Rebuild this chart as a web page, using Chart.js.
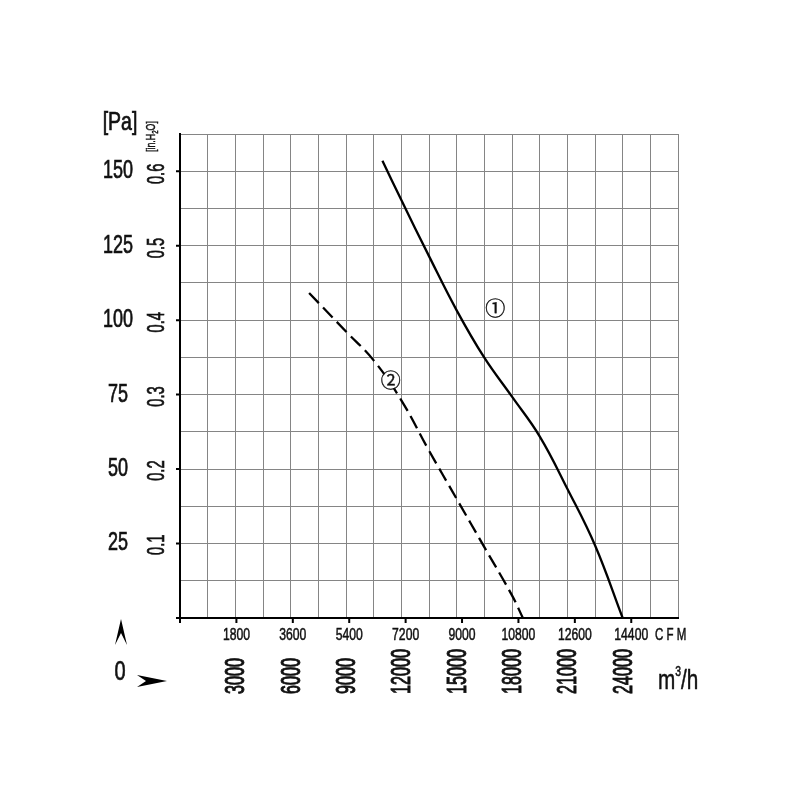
<!DOCTYPE html>
<html>
<head>
<meta charset="utf-8">
<script src="https://cdn.jsdelivr.net/npm/chart.js@4"></script>
<style>
  body { margin: 0; background: #fff; }
  canvas { display: block; }
</style>
</head>
<body>
<canvas id="fanChart" width="800" height="800"></canvas>
<script>
/* ───────────── DATA ───────────── */
// curve 1 (solid) : airflow m³/h vs static pressure Pa
const flow1 = [10975, 12000, 13500, 15000, 16500, 18000, 19500, 21000, 22500, 24000];
const pres1 = [153.5, 140.3, 121.5, 103.3, 87.4, 74.3, 61.0, 43.4, 24.4, 0];
// curve 2 (dashed)
const flow2 = [7000, 9000, 10500, 12000, 13500, 15000, 16500, 18000, 18590];
const pres2 = [109.1, 96.2, 86.5, 73.1, 56.2, 40.0, 23.8, 7.6, 0];

// axis tick labels
const paTicks  = [25, 50, 75, 100, 125, 150];
const inTicks  = ["0.1", "0.2", "0.3", "0.4", "0.5", "0.6"];
const cfmTicks = [1800, 3600, 5400, 7200, 9000, 10800, 12600, 14400];
const m3hTicks = [3000, 6000, 9000, 12000, 15000, 18000, 21000, 24000];

// curve markers ① ② : [label, m³/h, Pa]
const curveTags = [["①", 17090, 103.8], ["②", 11420, 79.8]];

const CFM_TO_M3H = 1.699;
const FONT = '"Liberation Sans", Arial, sans-serif';
const INK = "#111";

/* ───────────── HELPERS ───────────── */
const txt = (ctx, s, x, y, o = {}) => {
  ctx.save();
  ctx.translate(x, y);
  if (o.rot) ctx.rotate(o.rot);
  ctx.scale(o.sx || 1, 1);
  ctx.font = `${o.weight || "normal"} ${o.size || 16}px ${o.family || FONT}`;
  ctx.textAlign = o.align || "center";
  ctx.textBaseline = o.base || "middle";
  ctx.fillStyle = INK;
  ctx.fillText(s, 0, 0);
  if (o.bold !== false) {            // slightly heavier strokes, like the print
    ctx.strokeStyle = INK;
    ctx.lineWidth = o.stroke || 0.7;
    ctx.strokeText(s, 0, 0);
  }
  ctx.restore();
};

// pieces: [text, size, dy] drawn one after another (for sub/superscripts)
const runs = (ctx, pieces, x, y, sx, rot = 0) => {
  ctx.save();
  ctx.translate(x, y);
  if (rot) ctx.rotate(rot);
  ctx.scale(sx, 1);
  ctx.fillStyle = INK;
  ctx.strokeStyle = INK;
  ctx.lineWidth = 0.5;
  ctx.textBaseline = "alphabetic";
  ctx.textAlign = "left";
  let cx = 0;
  pieces.forEach(([s, sz, dy]) => {
    ctx.font = `${sz}px ${FONT}`;
    ctx.fillText(s, cx, dy);
    ctx.strokeText(s, cx, dy);
    cx += ctx.measureText(s).width;
  });
  ctx.restore();
};

const toPoints = (xs, ys) => xs.map((x, i) => ({ x, y: ys[i] }));

/* ───────────── LABEL PLUGIN ───────────── */
const fanLabels = {
  id: "fanLabels",
  afterDraw(chart) {
    const { ctx, chartArea: a, scales: { x, y } } = chart;

    // tick marks
    ctx.save();
    ctx.strokeStyle = "#000";
    ctx.lineWidth = 2;
    ctx.beginPath();
    [0, ...paTicks].forEach(v => {
      const py = y.getPixelForValue(v);
      ctx.moveTo(a.left - 4, py); ctx.lineTo(a.left, py);
    });
    [0, ...cfmTicks].forEach(v => {
      const px = x.getPixelForValue(v * CFM_TO_M3H);
      ctx.moveTo(px, a.bottom); ctx.lineTo(px, a.bottom + 5);
    });
    ctx.stroke();
    ctx.restore();

    // left: Pa and in.H2O
    txt(ctx, "[Pa]", 120, 130, { size: 25, sx: 0.78, base: "alphabetic" });
    paTicks.forEach(v => txt(ctx, String(v), 118, y.getPixelForValue(v), { size: 25, sx: 0.72 }));
    inTicks.forEach(v => txt(ctx, v, 158, y.getPixelForValue(parseFloat(v) * 249.089) + 1,
      { size: 23, sx: 0.64, rot: -Math.PI / 2 }));
    runs(ctx, [["[in.H", 13, 0], ["2", 9, 3], ["O]", 13, 0]], 155, 152, 0.68, -Math.PI / 2);

    // bottom: CFM row
    cfmTicks.forEach(v => txt(ctx, String(v), x.getPixelForValue(v * CFM_TO_M3H), 636,
      { size: 16, sx: 0.76, stroke: 0.5 }));
    txt(ctx, "C F M", 655, 636, { size: 16, sx: 0.72, align: "left", stroke: 0.5 });

    // bottom: m³/h row (rotated)
    m3hTicks.forEach(v => txt(ctx, String(v), x.getPixelForValue(v) + 1.5, 694,
      { size: 27, sx: 0.6, rot: -Math.PI / 2, align: "left", stroke: 1 }));
    runs(ctx, [["m", 28, 0], ["3", 14, -13], ["/h", 28, 0]], 658, 689, 0.74);

    // origin "0" and arrows
    txt(ctx, "0", 120, 673, { size: 27, sx: 0.74 });
    ctx.save();
    ctx.fillStyle = "#000";
    ctx.beginPath();
    ctx.moveTo(121, 619); ctx.lineTo(127, 645); ctx.lineTo(121, 633); ctx.lineTo(115, 645);
    ctx.closePath(); ctx.fill();
    ctx.beginPath();
    ctx.moveTo(167, 681); ctx.lineTo(137, 675); ctx.lineTo(146, 681); ctx.lineTo(137, 687);
    ctx.closePath(); ctx.fill();
    ctx.restore();

    // curve tags on white discs
    curveTags.forEach(([s, fx, fp]) => {
      const px = x.getPixelForValue(fx), py = y.getPixelForValue(fp);
      ctx.save();
      ctx.fillStyle = "#fff";
      ctx.beginPath(); ctx.arc(px, py, 8.5, 0, Math.PI * 2); ctx.fill();
      ctx.restore();
      txt(ctx, s, px, py, { size: 20, stroke: 0.4, family: '"Noto Sans CJK JP", "DejaVu Sans", sans-serif' });
    });
  }
};

/* ───────────── CHART ───────────── */
const gridColor = "#858585";

new Chart(document.getElementById("fanChart").getContext("2d"), {
  type: "scatter",
  data: {
    datasets: [
      {
        data: toPoints(flow1, pres1),
        showLine: true,
        borderColor: "#000",
        borderWidth: 2.3,
        pointRadius: 0,
        tension: 0.4
      },
      {
        data: toPoints(flow2, pres2),
        showLine: true,
        borderColor: "#000",
        borderWidth: 2.3,
        borderDash: [14, 6],
        pointRadius: 0,
        tension: 0.4
      }
    ]
  },
  options: {
    responsive: false,
    animation: false,
    layout: { padding: { left: 180, right: 122, top: 134, bottom: 182 } },
    plugins: { legend: { display: false }, tooltip: { enabled: false } },
    scales: {
      x: {
        type: "linear",
        min: 0, max: 27000,
        ticks: { stepSize: 1500, display: false },
        grid: { color: gridColor, lineWidth: 1, drawTicks: false },
        border: { color: "#000", width: 2 }
      },
      y: {
        type: "linear",
        min: 0, max: 162.5,
        ticks: { stepSize: 12.5, display: false },
        grid: { color: gridColor, lineWidth: 1, drawTicks: false },
        border: { color: "#000", width: 2 }
      }
    }
  },
  plugins: [fanLabels]
});
</script>
</body>
</html>
